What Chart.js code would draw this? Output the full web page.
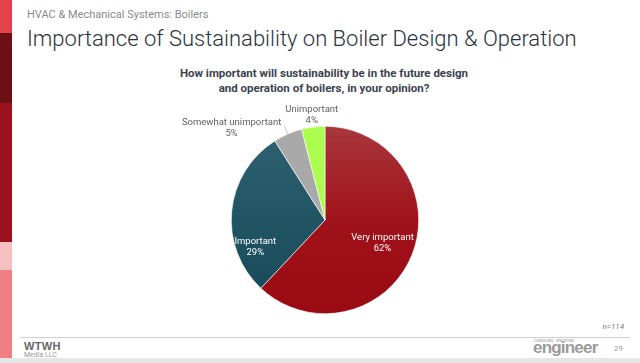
<!DOCTYPE html>
<html>
<head>
<meta charset="utf-8">
<script src="https://cdn.jsdelivr.net/npm/chart.js@4.4.1/dist/chart.umd.min.js"></script>
<style>
  html, body { margin: 0; padding: 0; background: #fff; }
  body { width: 640px; height: 363px; position: relative; overflow: hidden; font-family: Roboto, 'Noto Sans', sans-serif; }
  .strip { position: absolute; left: 0; width: 12px; }
  #sub { position: absolute; left: 27px; top: 8px; font-size: 11px; color: #8a8a8a; }
  #title { position: absolute; left: 27px; top: 26px; font-size: 22px; font-weight: 300; color: #2b3240; white-space: nowrap; }
  #question { position: absolute; left: 0; width: 648px; top: 66px; text-align: center; font-size: 11.5px; font-weight: 700; color: #3a4250; line-height: 15px; }
  #chartBox { position: absolute; left: 125px; top: 98px; width: 400px; height: 244px; }
  #nval { position: absolute; right: 16px; top: 322px; font-size: 8px; font-style: italic; color: #777; }
  #rule { position: absolute; left: 20px; right: 10px; top: 337px; height: 1px; background: #d0d0d0; }
  #wtwh { position: absolute; left: 24px; top: 341px; line-height: 8px; }
  #wtwh b { display: block; font-size: 11px; color: #666; font-family: 'Liberation Sans', Arial, sans-serif; font-weight: 900; letter-spacing: 0.3px; line-height: 10px; }
  #wtwh span { display: block; font-size: 7px; color: #9a9a9a; }
  #eng { position: absolute; left: 533px; top: 338px; font-size: 17px; font-weight: 700; color: #9a9a9a; font-family: 'Liberation Sans', Arial, sans-serif; letter-spacing: -0.8px; }
  #eng small { position: absolute; left: 1px; top: 1px; font-size: 3px; letter-spacing: 0; color: #aaa; white-space: nowrap; }
  #page { position: absolute; left: 614px; top: 344px; font-size: 8px; color: #9a9a9a; }
  #band { position: absolute; left: 0; right: 0; top: 358px; height: 5px; background: #e6e6e6; }
</style>
</head>
<body>
<div class="strip" style="top:0;height:33px;background:#e2424b"></div>
<div class="strip" style="top:33px;height:70px;background:#6d1016"></div>
<div class="strip" style="top:103px;height:139px;background:#9a111c"></div>
<div class="strip" style="top:242px;height:28px;background:#f6c0c3"></div>
<div class="strip" style="top:270px;height:93px;background:#ef7f84"></div>

<div id="sub">HVAC &amp; Mechanical Systems: Boilers</div>
<div id="title">Importance of Sustainability on Boiler Design &amp; Operation</div>
<div id="question">How important will sustainability be in the future design<br>and operation of boilers, in your opinion?</div>
<div id="chartBox"><canvas id="pie"></canvas></div>
<div id="nval">n=114</div>
<div id="rule"></div>
<div id="wtwh"><b>WTWH</b><span>Media LLC</span></div>
<div id="eng"><small>CONSULTING · SPECIFYING</small>engineer</div>
<div id="page">29</div>
<div id="band"></div>

<script>
const categories = ['Very important', 'Important', 'Somewhat unimportant', 'Unimportant'];
const shares = [62, 29, 5, 4];
const sliceColors = ['#9f0f17', '#1b4f5e', '#a9a9a9', '#acfc4f'];

// where each label sits: inside (white) or outside, r = fraction of radius, shift in degrees
const labelStyle = [
    { inside: true, r: 0.66, shift: 0 },
    { inside: true, r: 0.80, shift: -27 },
    { inside: false, r: 1.40, shift: -22, leader: true },
    { inside: false, r: 1.13, shift: 0 }
];

const sliceLabels = {
    id: 'sliceLabels',
    afterDatasetsDraw(chart) {
        const ctx = chart.ctx;
        const meta = chart.getDatasetMeta(0);
        ctx.save();
        ctx.font = "9.5px Roboto, 'Noto Sans', sans-serif";
        ctx.textAlign = 'center';
        ctx.textBaseline = 'middle';
        meta.data.forEach((arc, i) => {
            const st = labelStyle[i];
            const m = (arc.startAngle + arc.endAngle) / 2;
            const a = m + st.shift * Math.PI / 180;
            const x = arc.x + Math.cos(a) * arc.outerRadius * st.r;
            const y = arc.y + Math.sin(a) * arc.outerRadius * st.r;
            if (st.leader) {
                ctx.strokeStyle = '#c4c4c4';
                ctx.lineWidth = 1;
                ctx.beginPath();
                ctx.moveTo(arc.x + Math.cos(m) * arc.outerRadius, arc.y + Math.sin(m) * arc.outerRadius);
                ctx.lineTo(arc.x + Math.cos(m) * arc.outerRadius * 1.1, arc.y + Math.sin(m) * arc.outerRadius * 1.1);
                ctx.stroke();
            }
            ctx.fillStyle = st.inside ? '#ffffff' : '#626262';
            ctx.fillText(categories[i], x, y - 5.5);
            ctx.fillText(shares[i] + '%', x, y + 5.5);
        });
        ctx.restore();
    }
};

const shade = (ctx, i) => {
    const chart = ctx.chart;
    const area = chart.chartArea;
    if (!area) return sliceColors[i];
    const g = chart.ctx.createLinearGradient(0, area.top, 0, area.bottom);
    if (i === 0) { g.addColorStop(0, '#a8373c'); g.addColorStop(0.5, '#a0121b'); g.addColorStop(1, '#9a0a12'); return g; }
    if (i === 1) { g.addColorStop(0, '#2e6270'); g.addColorStop(1, '#164857'); return g; }
    return sliceColors[i];
};

new Chart(document.getElementById('pie'), {
    type: 'pie',
    data: {
        labels: categories,
        datasets: [{
            data: shares,
            backgroundColor: (c) => shade(c, c.dataIndex),
            borderColor: '#ffffff',
            borderWidth: 0.6
        }]
    },
    options: {
        responsive: true,
        maintainAspectRatio: false,
        animation: false,
        layout: { padding: { top: 28, bottom: 28 } },
        plugins: { legend: { display: false }, tooltip: { enabled: false } }
    },
    plugins: [sliceLabels]
});
</script>
</body>
</html>
